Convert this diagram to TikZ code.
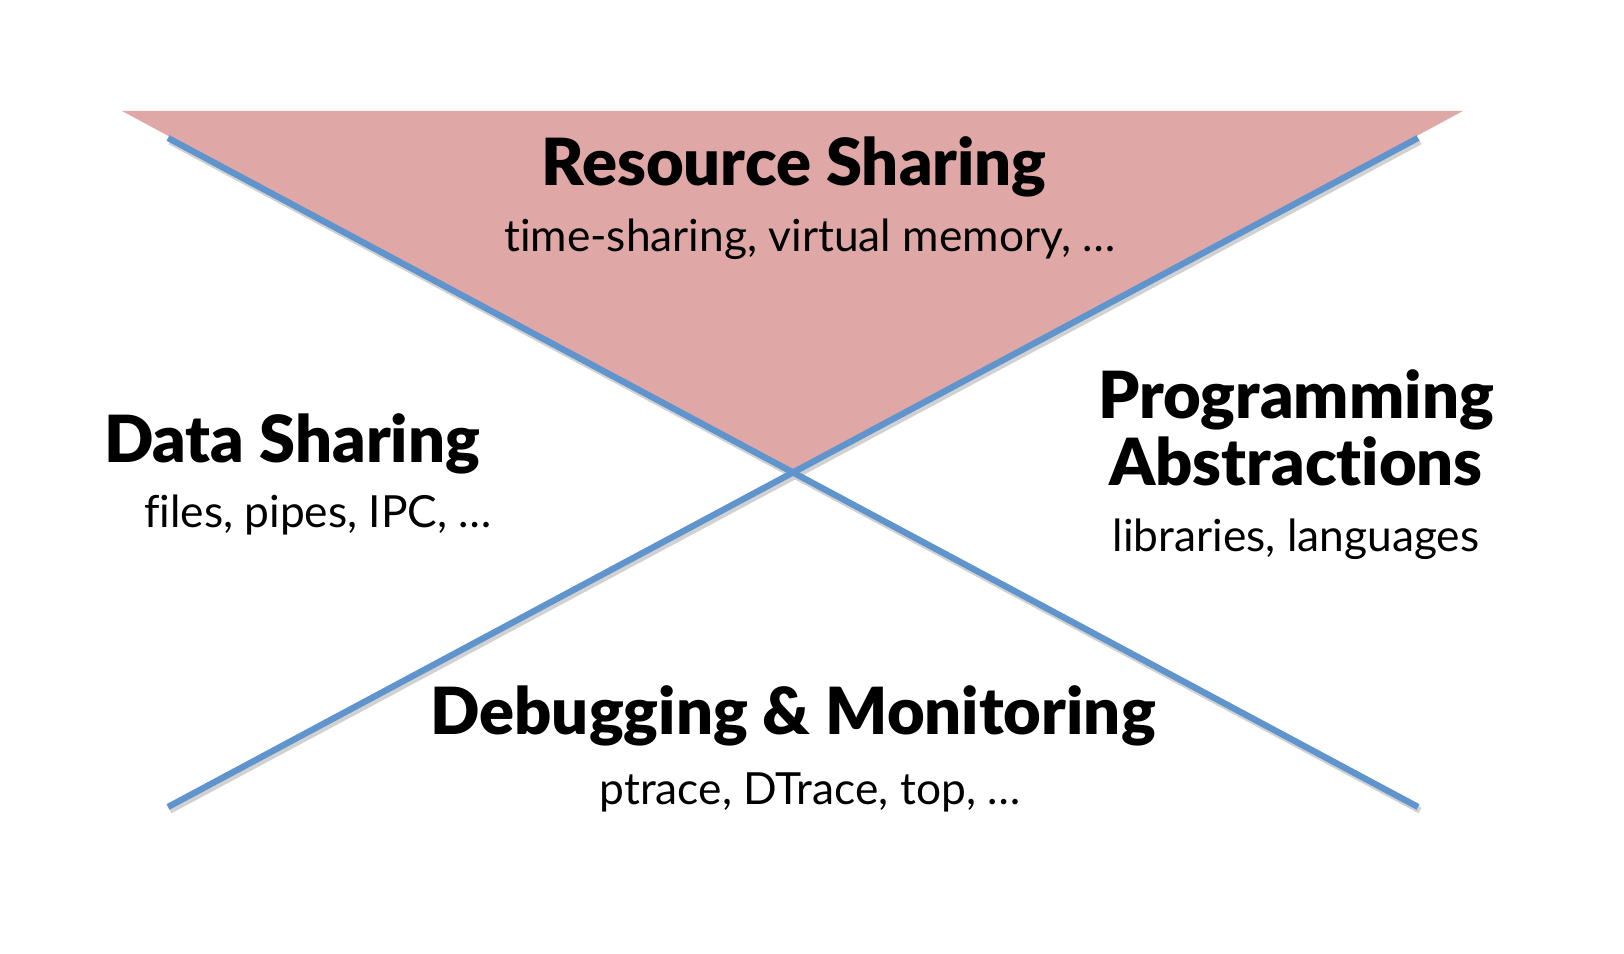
\documentclass[tikz,border=0pt]{standalone}
\usepackage{fontspec}
\setmainfont{Lato}[BoldFont={Lato Black},Ligatures=NoCommon]
\definecolor{wedgepink}{HTML}{E0A7A7}
\definecolor{axisblue}{HTML}{5F95CC}
\tikzset{
  title/.style={anchor=base,font=\fontsize{18.5}{22}\selectfont\bfseries},
  sub/.style={anchor=base,font=\fontsize{12.6}{15}\selectfont},
  axis/.style={axisblue,line width=1.8pt},
  axisshadow/.style={black!18,line width=1.8pt}
}
\begin{document}
\begin{tikzpicture}

\useasboundingbox (0,0) rectangle (16.24,9.54);

\coordinate (tl) at (1.22,8.43);
\coordinate (tr) at (14.63,8.43);
\coordinate (apex) at (7.93,4.815);
\coordinate (a1) at (1.68,8.16);
\coordinate (a2) at (14.18,1.47);
\coordinate (b1) at (14.18,8.16);
\coordinate (b2) at (1.68,1.47);

\fill[wedgepink] (tl) -- (tr) -- (apex) -- cycle;
\draw[axisshadow,transform canvas={shift={(0.02,-0.035)}}] (a1) -- (a2);
\draw[axisshadow,transform canvas={shift={(0.02,-0.035)}}] (b1) -- (b2);
\draw[axis] (a1) -- (a2);
\draw[axis] (b1) -- (b2);

\node[title] (res) at (7.94,7.68) {Resource Sharing};
\node[sub] (resx) at (8.10,7.02) {time-sharing, virtual memory, \dots};
\node[title] (data) at (2.92,4.91) {Data Sharing};
\node[sub] (datax) at (3.18,4.26) {files, pipes, IPC, \dots};
\node[title] (prog) at (12.96,5.35) {Programming};
\node[title] (abs) at (12.96,4.68) {Abstractions};
\node[sub] (progx) at (12.96,4.02) {libraries, languages};
\node[title] (dbg) at (7.93,2.19) {Debugging \& Monitoring};
\node[sub] (dbgx) at (8.10,1.49) {ptrace, DTrace, top, \dots};
\end{tikzpicture}
\end{document}
